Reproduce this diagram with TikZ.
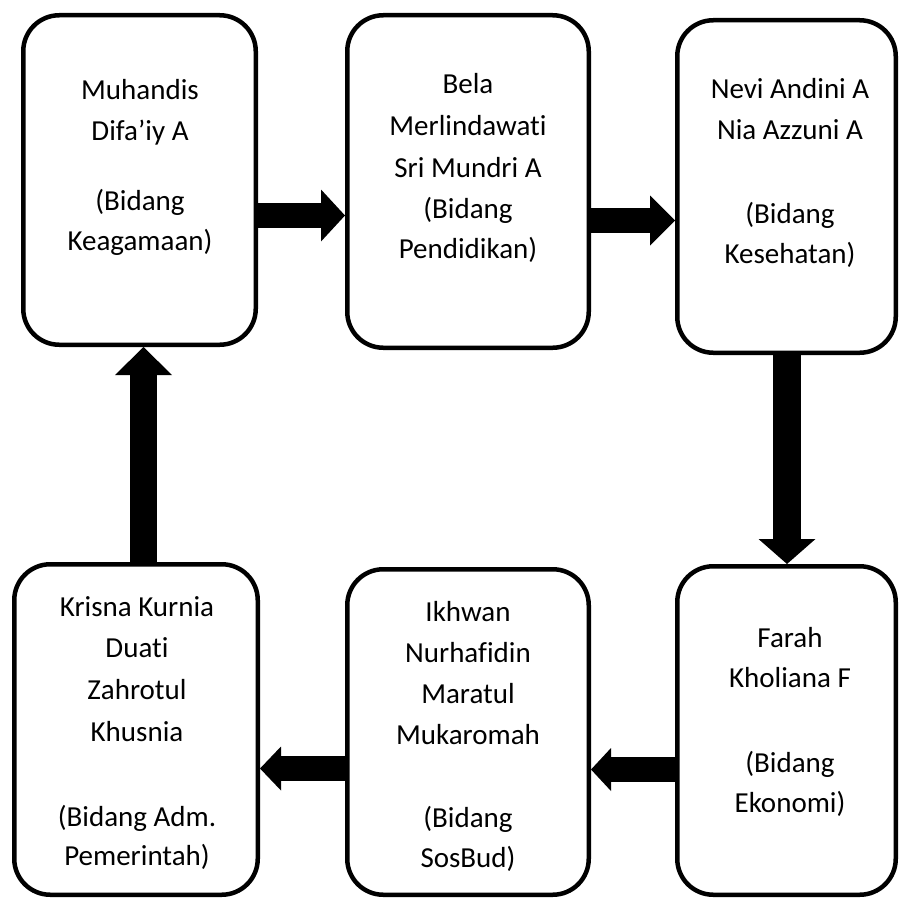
\documentclass[tikz,border=0pt]{standalone}
\usepackage{fontspec}
\setmainfont{Carlito}[RawFeature={-liga;-clig;-calt;-dlig}]
\usetikzlibrary{arrows.meta}
\tikzset{
  box/.style={draw, line width=4.5pt, rounded corners=36pt, inner sep=0pt},
  txt/.style={anchor=base, inner sep=0pt, font=\fontsize{29}{34}\selectfont},
  flow/.style n args={3}{line width=#1, -{Triangle[width=#2, length=#3, line width=0pt]}}
}
\begin{document}
\begin{tikzpicture}[x=1pt, y=-1pt]
\useasboundingbox (0,0) rectangle (898,899);
% boxes
\node[box, minimum width=232.5pt, minimum height=329.5pt] (b1) at (139.5,180) {};
\node[box, minimum width=241.5pt, minimum height=332.5pt] (b2) at (468,181.5) {};
\node[box, minimum width=218.5pt, minimum height=332.5pt] (b3) at (786.5,186.5) {};
\node[box, minimum width=243.5pt, minimum height=330.5pt] (b4) at (136,729.5) {};
\node[box, minimum width=241.5pt, minimum height=325.5pt] (b5) at (468,732) {};
\node[box, minimum width=218.5pt, minimum height=328.5pt] (b6) at (786.5,730.5) {};
% texts
\foreach \lbl/\yp [count=\k] in {{Muhandis}/99, {Difa’iy A}/140, {(Bidang}/210, {Keagamaan)}/250}
  \node[txt] (t1-\k) at (140,\yp) {\lbl};
\foreach \lbl/\yp [count=\k] in {{Bela}/93, {Merlindawati}/135, {Sri Mundri A}/177, {(Bidang}/218, {Pendidikan)}/258}
  \node[txt] (t2-\k) at (468,\yp) {\lbl};
\foreach \lbl/\yp [count=\k] in {{Nevi Andini A}/98, {Nia Azzuni A}/139, {(Bidang}/223, {Kesehatan)}/263}
  \node[txt] (t3-\k) at (790,\yp) {\lbl};
\foreach \lbl/\yp [count=\k] in {{Krisna Kurnia}/616, {Duati}/657, {Zahrotul}/699, {Khusnia}/741, {(Bidang Adm.}/826, {Pemerintah)}/865}
  \node[txt] (t4-\k) at (137,\yp) {\lbl};
\foreach \lbl/\yp [count=\k] in {{Ikhwan}/621, {Nurhafidin}/662, {Maratul}/703, {Mukaromah}/744, {(Bidang}/827, {SosBud)}/867}
  \node[txt] (t5-\k) at (468,\yp) {\lbl};
\foreach \lbl/\yp [count=\k] in {{Farah}/647, {Kholiana F}/687, {(Bidang}/772, {Ekonomi)}/812}
  \node[txt] (t6-\k) at (790,\yp) {\lbl};
% connectors
\draw[flow={25pt}{52pt}{24pt}] (b1.east |- 0,215.5) -- (b2.west |- 0,215.5);
\draw[flow={25pt}{50pt}{25pt}] (b2.east |- 0,220.5) -- (b3.west |- 0,220.5);
\draw[flow={28pt}{57pt}{25pt}] (b3.south -| 787,0) -- (b6.north -| 787,0);
\draw[flow={25pt}{43pt}{20pt}] (b6.west |- 0,769.5) -- (b5.east |- 0,769.5);
\draw[flow={25pt}{44pt}{21pt}] (b5.west |- 0,768.5) -- (b4.east |- 0,768.5);
\draw[flow={27pt}{57pt}{28pt}] (b4.north -| 143.5,0) -- (b1.south -| 143.5,0);
\end{tikzpicture}
\end{document}
